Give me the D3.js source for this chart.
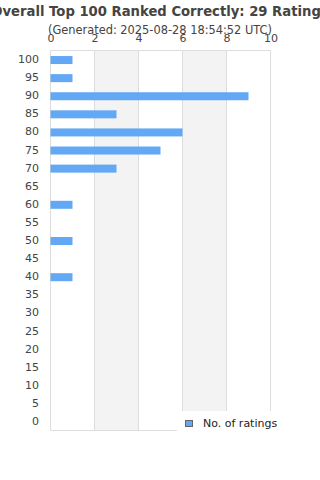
<!DOCTYPE html>
<html><head><meta charset="utf-8">
<script src="https://cdn.jsdelivr.net/npm/d3@7"></script>
<style>body{margin:0;background:#fff}svg{display:block;font-family:"DejaVu Sans",sans-serif}</style>
</head><body>
<script>
const categories = ["100","95","90","85","80","75","70","65","60","55","50","45","40","35","30","25","20","15","10","5","0"];
const ratings = [1,1,9,3,6,5,3,0,1,0,1,0,1,0,0,0,0,0,0,0,0];
const xTicks = [0,2,4,6,8,10];
const titleText = "Overall Top 100 Ranked Correctly: 29 Ratings";
const subtitleText = "(Generated: 2025-08-28 18:54:52 UTC)";
const seriesName = "No. of ratings";

(function(){
const W=320,H=480;
const svg=d3.select("body").append("svg").attr("width",W).attr("height",H);
const pL=50.5,pR=270.5,pT=50.5,pB=430.5;
const x=d3.scaleLinear().domain([0,10]).range([pL,pR]);
const y=d3.scaleBand().domain(categories).range([pT,pB]);

for(let i=0;i<xTicks.length-1;i++){
  if(i%2===1){
    svg.append("rect").attr("x",x(xTicks[i])).attr("y",pT).attr("width",x(xTicks[i+1])-x(xTicks[i])).attr("height",pB-pT).attr("fill","#f3f3f3");
  }
}
svg.append("g").selectAll("line").data(xTicks).join("line")
  .attr("x1",d=>x(d)).attr("x2",d=>x(d)).attr("y1",pT).attr("y2",pB)
  .attr("stroke","#dddddd").attr("stroke-width",1);
svg.append("line").attr("x1",pL).attr("x2",pR).attr("y1",pT).attr("y2",pT).attr("stroke","#dddddd");
svg.append("line").attr("x1",pL).attr("x2",pR).attr("y1",pB).attr("y2",pB).attr("stroke","#dddddd");

const bh=8;
svg.append("g").selectAll("rect").data(categories).join("rect")
  .attr("x",x(0)).attr("y",(d)=>y(d)+y.bandwidth()/2-bh/2+0.5)
  .attr("width",(d,i)=>x(ratings[i])-x(0)).attr("height",bh)
  .attr("fill","#62a8f4");

const xa=d3.axisTop(x).tickValues(xTicks).tickSize(0).tickPadding(0);
const gx=svg.append("g").attr("transform",`translate(0,42)`).call(xa);
gx.select(".domain").remove();
gx.selectAll("text").attr("font-size",11).attr("fill","#444").attr("font-family","DejaVu Sans").attr("dy","0");

const ya=d3.axisLeft(y).tickSize(0).tickPadding(0);
const gy=svg.append("g").attr("transform",`translate(39,0)`).call(ya);
gy.select(".domain").remove();
gy.selectAll("text").attr("font-size",11).attr("fill","#444").attr("font-family","DejaVu Sans");

svg.append("text").attr("x",W/2).attr("y",16).attr("text-anchor","middle")
  .attr("font-size",13.2).attr("font-weight","bold").attr("fill","#444").text(titleText);
svg.append("text").attr("x",W/2).attr("y",33.5).attr("text-anchor","middle")
  .attr("font-size",11.4).attr("fill","#444").text(subtitleText);

const lg=svg.append("g");
lg.append("rect").attr("x",177).attr("y",411).attr("width",143).attr("height",21).attr("fill","#fff");
lg.append("rect").attr("x",185.5).attr("y",420.5).attr("width",7).attr("height",6).attr("fill","#62a8f4").attr("stroke","#666").attr("stroke-width",1);
lg.append("text").attr("x",203).attr("y",427).attr("font-size",11).attr("fill","#222").text(seriesName);
})();
</script>
</body></html>
